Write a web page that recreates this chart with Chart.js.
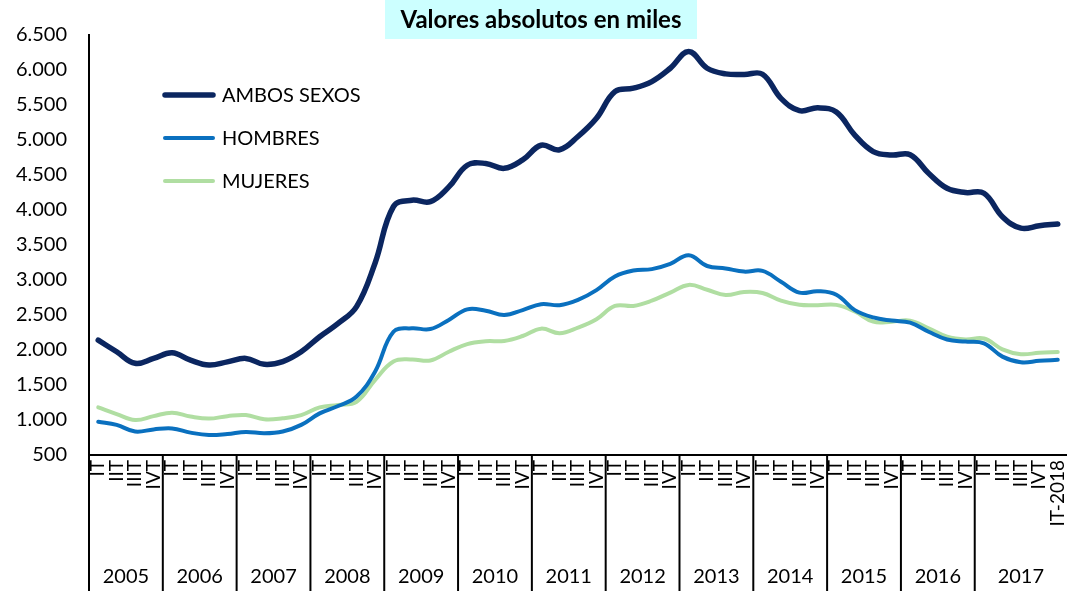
<!DOCTYPE html>
<html lang="es">
<head>
<meta charset="utf-8">
<title>Valores absolutos en miles</title>
<script src="https://cdn.jsdelivr.net/npm/chart.js@4.4.1/dist/chart.umd.min.js"></script>
<style>
  body { margin: 0; background: #fff; }
  #grafico { display: block; }
</style>
</head>
<body>
<canvas id="grafico" width="1067" height="591"></canvas>
<script>
// Datos trimestrales, en miles
const trimestres = ['IT', 'IIT', 'IIIT', 'IVT'];
const anios = ['2005', '2006', '2007', '2008', '2009', '2010', '2011', '2012', '2013', '2014', '2015', '2016', '2017'];
const ultimo = 'IT-2018';

const ambosSexos = [
  2140, 1975, 1810, 1880, 1960, 1855, 1785, 1830, 1880, 1795, 1835, 1975,
  2190, 2380, 2620, 3240, 4050, 4140, 4120, 4330, 4640, 4665, 4595, 4715,
  4925, 4860, 5050, 5310, 5690, 5740, 5835, 6025, 6265, 6025, 5945, 5935,
  5940, 5595, 5420, 5460, 5400, 5070, 4835, 4785, 4790, 4525, 4310, 4250,
  4240, 3905, 3740, 3775, 3800
];
const hombres = [
  975, 930, 835, 865, 880, 820, 785, 800, 830, 810, 835, 930,
  1095, 1200, 1335, 1690, 2260, 2310, 2300, 2430, 2580, 2560, 2500, 2570,
  2655, 2640, 2715, 2855, 3050, 3135, 3155, 3230, 3355, 3200, 3165, 3120,
  3130, 2975, 2820, 2840, 2790, 2570, 2465, 2420, 2390, 2260, 2150, 2120,
  2095, 1905, 1825, 1845, 1860
];
const mujeres = [
  1180, 1085, 1000, 1055, 1105, 1050, 1020, 1055, 1070, 1010, 1025, 1070,
  1180, 1215, 1260, 1570, 1835, 1865, 1850, 1975, 2085, 2125, 2130, 2200,
  2305, 2240, 2320, 2440, 2630, 2630, 2705, 2820, 2930, 2860, 2785, 2830,
  2815, 2705, 2645, 2640, 2645, 2550, 2405, 2405, 2420, 2310, 2190, 2150,
  2165, 2010, 1940, 1960, 1970
];

const etiquetas = [];
anios.forEach(() => trimestres.forEach(t => etiquetas.push(t)));
etiquetas.push(ultimo);

const fuente = 'Lato, "Noto Sans", sans-serif';
Chart.defaults.font.family = fuente;
Chart.defaults.color = '#000';

function miles(v) {
  return String(v).replace(/\B(?=(\d{3})+(?!\d))/g, '.');
}

// Titulo con fondo celeste
const titulo = {
  id: 'titulo',
  beforeDraw(chart) {
    const c = chart.ctx;
    c.save();
    c.fillStyle = '#ccffff';
    c.fillRect(385, 0, 312, 39);
    c.fillStyle = '#000';
    c.font = 'bold 24px ' + fuente;
    c.textAlign = 'center';
    c.textBaseline = 'middle';
    c.fillText('Valores absolutos en miles', 541, 20);
    c.restore();
  }
};

// Leyenda dentro del area del grafico
const leyenda = {
  id: 'leyenda',
  afterDraw(chart) {
    const c = chart.ctx;
    c.save();
    chart.data.datasets.forEach((ds, i) => {
      const y = 95 + i * 43;
      c.strokeStyle = ds.borderColor;
      c.lineWidth = ds.borderWidth;
      c.lineCap = 'round';
      c.beginPath();
      c.moveTo(165, y);
      c.lineTo(213, y);
      c.stroke();
      c.fillStyle = '#000';
      c.font = '20px ' + fuente;
      c.textBaseline = 'middle';
      c.fillText(ds.label, 222, y + 1);
    });
    c.restore();
  }
};

// Separadores y etiquetas de los años bajo el eje
const grupoAnios = {
  id: 'grupoAnios',
  afterDraw(chart) {
    const xs = chart.scales.x;
    const area = chart.chartArea;
    const paso = xs.getPixelForValue(1) - xs.getPixelForValue(0);
    const c = chart.ctx;
    c.save();
    c.strokeStyle = '#000';
    c.lineWidth = 2;
    c.fillStyle = '#000';
    c.font = '20px ' + fuente;
    c.textAlign = 'center';
    c.textBaseline = 'middle';
    anios.forEach((a, k) => {
      const x0 = xs.getPixelForValue(k * 4) - paso / 2;
      const x1 = k === anios.length - 1 ? area.right : xs.getPixelForValue(k * 4 + 3) + paso / 2;
      c.beginPath();
      c.moveTo(x0, area.bottom);
      c.lineTo(x0, chart.height);
      c.stroke();
      c.fillText(a, (x0 + x1) / 2, 577);
    });
    c.restore();
  }
};

const serie = (label, data, color, ancho) => ({
  label,
  data,
  borderColor: color,
  backgroundColor: color,
  borderWidth: ancho,
  pointRadius: 0,
  tension: 0.4,
  borderCapStyle: 'round',
  borderJoinStyle: 'round',
  fill: false
});

new Chart(document.getElementById('grafico'), {
  type: 'line',
  data: {
    labels: etiquetas,
    datasets: [
      serie('AMBOS SEXOS', ambosSexos, '#0b2660', 5.5),
      serie('HOMBRES', hombres, '#0a70bf', 4),
      serie('MUJERES', mujeres, '#b0dea2', 4)
    ]
  },
  options: {
    responsive: false,
    animation: false,
    layout: { padding: { top: 35, left: 0, right: 0, bottom: 0 } },
    plugins: {
      legend: { display: false },
      title: { display: false },
      tooltip: { enabled: false }
    },
    scales: {
      x: {
        type: 'category',
        offset: true,
        grid: { display: false, drawTicks: false },
        border: { display: true, color: '#000', width: 2 },
        ticks: {
          autoSkip: false,
          minRotation: 90,
          maxRotation: 90,
          padding: 5,
          font: { size: 19 },
          color: '#000'
        },
        afterFit(scale) {
          scale.height = 136;
          scale.paddingLeft = 0;
          scale.paddingRight = 0;
        }
      },
      y: {
        min: 500,
        max: 6500,
        grid: { display: false, drawTicks: false },
        border: { display: true, color: '#000', width: 2 },
        ticks: {
          stepSize: 500,
          padding: 22,
          font: { size: 20 },
          color: '#000',
          callback: v => miles(v)
        },
        afterFit(scale) {
          scale.width = 89;
          scale.paddingTop = 0;
          scale.paddingBottom = 0;
        }
      }
    }
  },
  plugins: [titulo, leyenda, grupoAnios]
});
</script>
</body>
</html>
